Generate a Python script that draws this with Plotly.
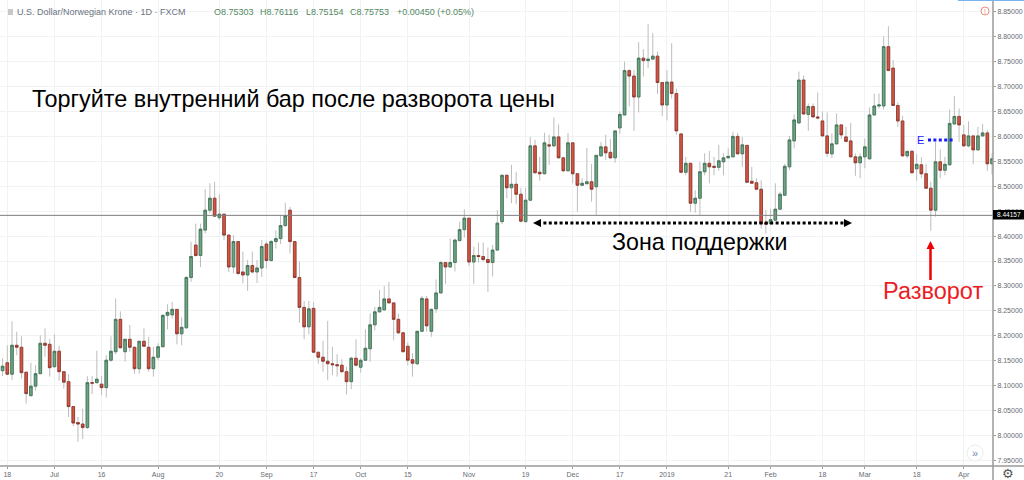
import plotly.graph_objects as go

bar_index = list(range(-1, 210))

# Prices for each daily candle
body_top = [8.139,
8.146,8.181,8.181,8.177,8.127,8.099,8.124,8.185,8.185,8.183,
8.169,8.169,8.128,8.108,8.058,8.026,8.023,8.106,8.106,8.113,
8.103,8.151,8.169,8.233,8.233,8.193,8.193,8.177,8.189,8.189,
8.177,8.157,8.178,8.241,8.247,8.253,8.253,8.217,8.317,8.359,
8.382,8.414,8.452,8.476,8.476,8.444,8.444,8.402,8.389,8.389,
8.328,8.341,8.341,8.336,8.379,8.384,8.389,8.395,8.421,8.441,
8.452,8.389,8.317,8.257,8.254,8.255,8.167,8.157,8.149,8.144,
8.142,8.141,8.128,8.155,8.155,8.151,8.175,8.222,8.248,8.257,
8.274,8.274,8.266,8.233,8.206,8.179,8.152,8.209,8.275,8.274,
8.253,8.286,8.347,8.347,8.347,8.392,8.413,8.436,8.436,8.361,
8.361,8.359,8.353,8.372,8.426,8.522,8.522,8.504,8.504,8.484,
8.472,8.581,8.581,8.528,8.587,8.583,8.599,8.599,8.557,8.587,
8.587,8.525,8.506,8.509,8.509,8.562,8.579,8.579,8.568,8.611,
8.644,8.732,8.732,8.721,8.757,8.757,8.755,8.761,8.761,8.708,
8.709,8.709,8.686,8.605,8.546,8.546,8.476,8.529,8.546,8.546,
8.540,8.551,8.557,8.560,8.600,8.600,8.583,8.582,8.510,8.507,
8.494,8.427,8.433,8.454,8.484,8.540,8.593,8.633,8.713,8.713,
8.660,8.660,8.639,8.631,8.601,8.585,8.623,8.623,8.599,8.591,
8.559,8.559,8.579,8.643,8.661,8.663,8.780,8.780,8.737,8.662,
8.631,8.570,8.570,8.544,8.543,8.525,8.496,8.549,8.549,8.544,
8.626,8.640,8.640,8.603,8.601,8.601,8.601,8.607,8.607,8.555]
body_bottom = [8.130,
8.123,8.123,8.177,8.126,8.084,8.080,8.099,8.124,8.181,8.136,
8.138,8.128,8.107,8.058,8.025,8.023,8.016,8.016,8.105,8.106,
8.096,8.096,8.151,8.168,8.176,8.168,8.177,8.134,8.134,8.179,
8.134,8.134,8.157,8.178,8.241,8.242,8.204,8.204,8.216,8.317,
8.361,8.361,8.412,8.452,8.440,8.437,8.402,8.338,8.338,8.325,
8.322,8.322,8.328,8.328,8.336,8.351,8.351,8.389,8.395,8.421,
8.389,8.317,8.257,8.218,8.218,8.167,8.157,8.149,8.144,8.142,
8.140,8.128,8.108,8.108,8.141,8.137,8.151,8.174,8.222,8.248,
8.252,8.266,8.233,8.206,8.168,8.151,8.145,8.144,8.209,8.220,
8.209,8.254,8.286,8.338,8.338,8.347,8.391,8.413,8.348,8.348,
8.359,8.353,8.347,8.347,8.372,8.429,8.497,8.497,8.484,8.430,
8.429,8.472,8.527,8.525,8.525,8.581,8.581,8.557,8.531,8.531,
8.525,8.502,8.502,8.505,8.494,8.499,8.561,8.567,8.557,8.557,
8.617,8.643,8.721,8.679,8.679,8.752,8.752,8.755,8.708,8.663,
8.663,8.686,8.611,8.528,8.528,8.466,8.466,8.476,8.529,8.539,
8.538,8.538,8.549,8.557,8.559,8.565,8.565,8.508,8.506,8.494,
8.425,8.424,8.425,8.432,8.454,8.482,8.539,8.591,8.627,8.645,
8.644,8.639,8.637,8.601,8.566,8.565,8.585,8.603,8.590,8.559,
8.547,8.547,8.559,8.555,8.643,8.661,8.661,8.732,8.662,8.631,
8.561,8.561,8.527,8.535,8.525,8.496,8.452,8.452,8.532,8.532,
8.543,8.625,8.623,8.581,8.581,8.573,8.573,8.601,8.545,8.545]
wick_high = [8.155,
8.181,8.229,8.208,8.199,8.127,8.146,8.141,8.201,8.215,8.194,
8.203,8.180,8.128,8.123,8.058,8.037,8.054,8.119,8.119,8.170,
8.119,8.161,8.199,8.275,8.249,8.193,8.222,8.177,8.190,8.215,
8.198,8.178,8.185,8.243,8.263,8.268,8.253,8.237,8.320,8.389,
8.425,8.425,8.494,8.506,8.509,8.484,8.444,8.402,8.402,8.389,
8.369,8.352,8.369,8.352,8.392,8.389,8.392,8.412,8.442,8.467,
8.459,8.389,8.349,8.270,8.270,8.268,8.167,8.190,8.230,8.178,
8.163,8.153,8.138,8.158,8.193,8.155,8.213,8.245,8.258,8.292,
8.300,8.308,8.266,8.244,8.208,8.187,8.165,8.209,8.280,8.280,
8.255,8.313,8.350,8.347,8.395,8.395,8.429,8.454,8.436,8.379,
8.387,8.387,8.377,8.382,8.452,8.524,8.524,8.543,8.529,8.497,
8.497,8.599,8.593,8.559,8.607,8.603,8.638,8.624,8.557,8.607,
8.587,8.525,8.516,8.577,8.545,8.562,8.589,8.603,8.595,8.611,
8.650,8.750,8.735,8.733,8.789,8.775,8.825,8.807,8.770,8.708,
8.733,8.787,8.696,8.605,8.559,8.546,8.492,8.549,8.566,8.571,
8.559,8.583,8.566,8.576,8.609,8.607,8.599,8.582,8.539,8.516,
8.512,8.452,8.455,8.506,8.489,8.545,8.601,8.644,8.730,8.722,
8.666,8.666,8.688,8.650,8.648,8.606,8.646,8.623,8.619,8.627,
8.566,8.566,8.596,8.658,8.686,8.686,8.801,8.821,8.753,8.668,
8.641,8.570,8.573,8.565,8.558,8.545,8.509,8.589,8.574,8.559,
8.654,8.681,8.656,8.623,8.630,8.601,8.619,8.625,8.613,8.566]
wick_low = [8.119,
8.121,8.111,8.161,8.114,8.064,8.078,8.090,8.124,8.158,8.118,
8.136,8.110,8.094,8.037,8.019,7.987,7.993,8.013,8.083,8.104,
8.081,8.076,8.148,8.163,8.175,8.148,8.168,8.124,8.124,8.178,
8.128,8.118,8.151,8.177,8.213,8.235,8.183,8.181,8.215,8.308,
8.359,8.338,8.405,8.446,8.439,8.432,8.392,8.328,8.325,8.322,
8.305,8.290,8.325,8.306,8.318,8.335,8.349,8.375,8.384,8.419,
8.365,8.315,8.226,8.193,8.203,8.165,8.144,8.128,8.111,8.121,
8.118,8.126,8.082,8.093,8.138,8.126,8.150,8.148,8.211,8.247,
8.250,8.265,8.191,8.203,8.167,8.141,8.118,8.141,8.208,8.208,
8.198,8.246,8.284,8.304,8.337,8.329,8.389,8.397,8.340,8.304,
8.347,8.349,8.288,8.319,8.370,8.424,8.476,8.466,8.464,8.427,
8.427,8.471,8.526,8.511,8.524,8.543,8.579,8.556,8.529,8.530,
8.506,8.449,8.501,8.504,8.469,8.442,8.559,8.553,8.555,8.547,
8.605,8.642,8.660,8.611,8.648,8.720,8.737,8.753,8.685,8.641,
8.632,8.676,8.603,8.526,8.522,8.449,8.447,8.442,8.522,8.506,
8.522,8.531,8.522,8.556,8.558,8.564,8.539,8.507,8.506,8.492,
8.415,8.405,8.422,8.431,8.452,8.481,8.532,8.576,8.626,8.643,
8.611,8.638,8.634,8.599,8.559,8.557,8.584,8.595,8.588,8.558,
8.521,8.516,8.536,8.554,8.642,8.656,8.654,8.731,8.661,8.619,
8.559,8.556,8.526,8.511,8.516,8.495,8.411,8.439,8.516,8.522,
8.541,8.623,8.589,8.579,8.578,8.544,8.571,8.599,8.531,8.524]
direction = ("G"
"RGRRRGGGRR" "GRRRRRRGRG" "RGGGRGRRGR" "RGGGGGRGGG" "RGGGRGRRGR"
"RGRGGRGGGG" "RRRRGRRRRR" "RRRGRGGGGG" "GRRRRRRGGR" "GGGRGGGGRG"
"RRRGGGRGRR" "GGRRGRGRRG" "RRGGRGGRRG" "GGRRGRGGRR" "GRRRGRGGGR"
"RGGGGRGRRR" "RRGGGGGGGR" "GRRRRGGRRR" "RGGGGGGRRR" "RGRGRRRGRG"
"GGRRGRGGRG")

price_ticks = [7.95, 8.00, 8.05, 8.10, 8.15, 8.20, 8.25, 8.30, 8.35, 8.40, 8.45, 8.50, 8.55,
               8.60, 8.65, 8.70, 8.75, 8.80, 8.85]
date_tick_bars = [0, 10, 20, 32, 45, 55, 65, 75, 85, 98, 110, 120, 130, 140, 153, 162, 173, 182, 193, 203]
date_tick_labels = ["18", "Jul", "16", "Aug", "20", "Sep", "17", "Oct", "15", "Nov", "19", "Dec", "17",
                    "2019", "21", "Feb", "18", "Mar", "18", "Apr"]
last_price = 8.44157

opens = [b if d == "G" else t for t, b, d in zip(body_top, body_bottom, direction)]
closes = [t if d == "G" else b for t, b, d in zip(body_top, body_bottom, direction)]

SANS = "Liberation Sans"
W, PW = 1024, 993
H, PH = 480, 466
fig = go.Figure()
WICK = "#bdbdbd"
fig.add_trace(go.Candlestick(
    x=bar_index, open=opens, high=wick_high, low=wick_low, close=closes,
    increasing=dict(line=dict(color=WICK, width=1), fillcolor=WICK),
    decreasing=dict(line=dict(color=WICK, width=1), fillcolor=WICK),
    hoverinfo="skip", showlegend=False))
fig.add_trace(go.Candlestick(
    x=bar_index, open=opens, high=body_top, low=body_bottom, close=closes,
    increasing=dict(line=dict(color="#3c6f52", width=0.8), fillcolor="#6ba583"),
    decreasing=dict(line=dict(color="#8a3428", width=0.8), fillcolor="#d75442"),
    showlegend=False))


def px(v):
    return v / PW


def py(v):
    return 1 - v / PH


def ann(text, x, y, size, color, anchor="left", family=SANS, **kw):
    fig.add_annotation(text=text, x=px(x), y=py(y), xref="paper", yref="paper", showarrow=False,
                       xanchor=anchor, yanchor="middle", font=dict(family=family, size=size, color=color), **kw)


ann("Торгуйте внутренний бар после разворота цены", 30, 99, 23.4, "#000000")
ann("Зона поддержки", 610, 242, 23.2, "#000000")
ann("Разворот", 881, 291, 23.5, "#ed1c24")
ann("E", 915, 140, 11, "#1a1aff")
ann("U.S. Dollar/Norwegian Krone · 1D · FXCM", 15, 12, 9, "#6b7280")
ann("O8.75303", 212, 12, 9, "#53885f")
ann("H8.76116", 258, 12, 9, "#53885f")
ann("L8.75154", 304, 12, 9, "#53885f")
ann("C8.75753", 348, 12, 9, "#53885f")
ann("+0.00450 (+0.05%)", 395, 12, 9, "#53885f")
ann(f"{last_price:.5f}", 1008.5, 214.5, 6.5, "#ffffff", anchor="center")
ann("⚙", 1008, 474, 13, "#555555", anchor="center", family="DejaVu Sans")
ann("»", 975, 453, 11, "#6d8aa8", anchor="center")
ann("!", 985, 11, 7, "#f08c7a", anchor="center")

AXIS = "#9a9a9a"
shapes = [
    dict(type="line", xref="paper", yref="y", x0=0, x1=1, y0=last_price, y1=last_price, line=dict(color="#7f7f7f", width=1)),
    dict(type="line", xref="paper", yref="paper", x0=0, x1=W / PW, y0=0, y1=0, line=dict(color=AXIS, width=1.5)),
    dict(type="line", xref="paper", yref="paper", x0=1, x1=1, y0=-14 / PH, y1=1, line=dict(color=AXIS, width=1.5)),
    dict(type="rect", xref="paper", yref="paper", x0=1, x1=W / PW, y0=py(219.5), y1=py(210), line=dict(width=0), fillcolor="#000000"),
    dict(type="line", xref="paper", yref="paper", x0=px(538), x1=px(846), y0=py(223), y1=py(223), line=dict(color="#000000", width=3, dash="3px,2.4px")),
    dict(type="line", xref="paper", yref="paper", x0=px(928), x1=px(953), y0=py(140), y1=py(140), line=dict(color="#1a1aff", width=3, dash="3px,2.4px")),
    dict(type="line", xref="paper", yref="paper", x0=px(930.5), x1=px(930.5), y0=py(280), y1=py(246), line=dict(color="#f00000", width=2.5)),
    dict(type="circle", xref="paper", yref="paper", x0=px(967), x1=px(983), y0=py(461), y1=py(445), line=dict(color="#ececec", width=1), fillcolor="#ffffff"),
    dict(type="circle", xref="paper", yref="paper", x0=px(981), x1=px(989), y0=py(15), y1=py(7), line=dict(color="#f08c7a", width=1), fillcolor="#ffffff"),
    dict(type="rect", xref="paper", yref="paper", x0=px(8), x1=px(13), y0=py(15), y1=py(9), line=dict(width=0), fillcolor="#c8c8c8"),
    dict(type="rect", xref="paper", yref="paper", x0=px(958), x1=W / PW, y0=py(1), y1=1, line=dict(width=0), fillcolor="#79b4ee"),
]

for tip, tail, color in [((533, 223), (542, 223), "#000000"), ((852, 223), (843, 223), "#000000"),
                         ((930.5, 241), (930.5, 250), "#f00000")]:
    fig.add_annotation(x=px(tip[0]), y=py(tip[1]), ax=tail[0] - tip[0], ay=tail[1] - tip[1], xref="paper", yref="paper",
                       text="", showarrow=True, arrowhead=2, arrowsize=1, arrowwidth=1.6, arrowcolor=color)

GRID = "#f0f3f3"
TICK_TEXT = "#666b73"
fig.update_layout(
    width=W, height=H, margin=dict(l=0, r=W - PW, t=0, b=H - PH), autosize=False,
    paper_bgcolor="#ffffff", plot_bgcolor="#ffffff", shapes=shapes, boxgap=0.2,
    font=dict(family=SANS, color=TICK_TEXT, size=7), showlegend=False,
    xaxis=dict(range=[-1.55, 209.2], tickmode="array", tickvals=date_tick_bars, ticktext=date_tick_labels,
               showgrid=True, gridcolor=GRID, gridwidth=1, zeroline=False, rangeslider=dict(visible=False),
               ticks="outside", ticklen=2, tickcolor=AXIS, tickfont=dict(size=7), showline=False),
    yaxis=dict(range=[7.9388, 8.8736], side="right", tickmode="array", tickvals=price_ticks,
               tickformat=".5f", showgrid=True, gridcolor=GRID, gridwidth=1, zeroline=False,
               ticks="outside", ticklen=2, tickcolor=AXIS, tickfont=dict(size=7), showline=False),
)

fig.write_html("out.html", config=dict(displayModeBar=False), post_script="document.body.style.margin='0';")
